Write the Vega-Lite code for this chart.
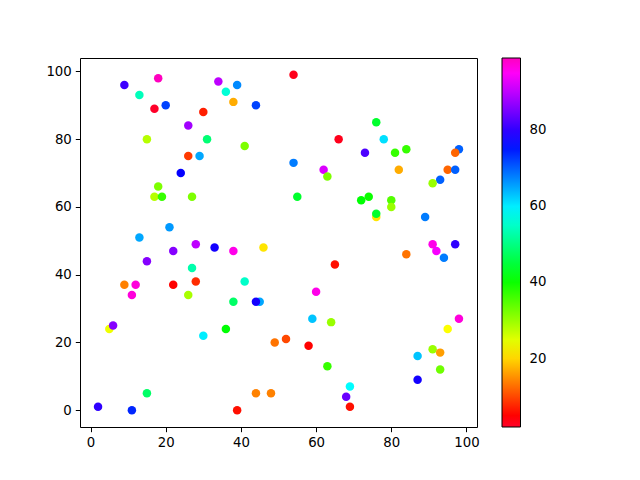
{
  "$schema": "https://vega.github.io/schema/vega-lite/v6.json",
  "autosize": "none",
  "width": 397,
  "height": 369,
  "padding": {"left": 80, "top": 58, "right": 163, "bottom": 53},
  "background": "white",
  "config": {
    "view": {"stroke": "black", "strokeWidth": 1},
    "font": "DejaVu Sans",
    "axis": {
      "grid": false,
      "domain": false,
      "tickColor": "black",
      "tickSize": 4.7,
      "tickWidth": 1,
      "labelColor": "black",
      "labelFont": "DejaVu Sans",
      "labelFontSize": 13.3,
      "labelPadding": 4,
      "title": null
    }
  },
  "data": {
    "values": [
      {"x": 9, "y": 96, "c": 81},
      {"x": 18, "y": 98, "c": 99},
      {"x": 34, "y": 97, "c": 90},
      {"x": 39, "y": 96, "c": 67},
      {"x": 13, "y": 93, "c": 54},
      {"x": 36, "y": 94, "c": 56},
      {"x": 38, "y": 91, "c": 17},
      {"x": 17, "y": 89, "c": 2},
      {"x": 20, "y": 90, "c": 72},
      {"x": 30, "y": 88, "c": 7},
      {"x": 44, "y": 90, "c": 72},
      {"x": 26, "y": 84, "c": 88},
      {"x": 15, "y": 80, "c": 28},
      {"x": 31, "y": 80, "c": 49},
      {"x": 41, "y": 78, "c": 32},
      {"x": 26, "y": 75, "c": 9},
      {"x": 29, "y": 75, "c": 65},
      {"x": 24, "y": 70, "c": 77},
      {"x": 18, "y": 66, "c": 32},
      {"x": 17, "y": 63, "c": 28},
      {"x": 19, "y": 63, "c": 37},
      {"x": 27, "y": 63, "c": 32},
      {"x": 21, "y": 54, "c": 66},
      {"x": 13, "y": 51, "c": 65},
      {"x": 54, "y": 99, "c": 3},
      {"x": 76, "y": 85, "c": 44},
      {"x": 66, "y": 80, "c": 3},
      {"x": 78, "y": 80, "c": 61},
      {"x": 73, "y": 76, "c": 82},
      {"x": 81, "y": 76, "c": 37},
      {"x": 84, "y": 77, "c": 37},
      {"x": 98, "y": 77, "c": 70},
      {"x": 97, "y": 76, "c": 12},
      {"x": 54, "y": 73, "c": 68},
      {"x": 62, "y": 71, "c": 92},
      {"x": 63, "y": 69, "c": 32},
      {"x": 82, "y": 71, "c": 17},
      {"x": 95, "y": 71, "c": 12},
      {"x": 97, "y": 71, "c": 70},
      {"x": 93, "y": 68, "c": 70},
      {"x": 91, "y": 67, "c": 30},
      {"x": 55, "y": 63, "c": 44},
      {"x": 72, "y": 62, "c": 41},
      {"x": 74, "y": 63, "c": 40},
      {"x": 80, "y": 62, "c": 35},
      {"x": 80, "y": 60, "c": 30},
      {"x": 76, "y": 57, "c": 21},
      {"x": 76, "y": 58, "c": 44},
      {"x": 89, "y": 57, "c": 68},
      {"x": 91, "y": 49, "c": 96},
      {"x": 28, "y": 49, "c": 90},
      {"x": 22, "y": 47, "c": 86},
      {"x": 33, "y": 48, "c": 78},
      {"x": 38, "y": 47, "c": 96},
      {"x": 46, "y": 48, "c": 21},
      {"x": 15, "y": 44, "c": 86},
      {"x": 27, "y": 42, "c": 53},
      {"x": 9, "y": 37, "c": 14},
      {"x": 12, "y": 37, "c": 97},
      {"x": 22, "y": 37, "c": 5},
      {"x": 28, "y": 38, "c": 8},
      {"x": 41, "y": 38, "c": 55},
      {"x": 11, "y": 34, "c": 97},
      {"x": 26, "y": 34, "c": 29},
      {"x": 38, "y": 32, "c": 48},
      {"x": 45, "y": 32, "c": 65},
      {"x": 44, "y": 32, "c": 78},
      {"x": 5, "y": 24, "c": 24},
      {"x": 6, "y": 25, "c": 86},
      {"x": 30, "y": 22, "c": 60},
      {"x": 36, "y": 24, "c": 41},
      {"x": 49, "y": 20, "c": 13},
      {"x": 15, "y": 5, "c": 48},
      {"x": 44, "y": 5, "c": 14},
      {"x": 48, "y": 5, "c": 14},
      {"x": 2, "y": 1, "c": 80},
      {"x": 11, "y": 0, "c": 74},
      {"x": 39, "y": 0, "c": 6},
      {"x": 92, "y": 47, "c": 94},
      {"x": 97, "y": 49, "c": 80},
      {"x": 84, "y": 46, "c": 13},
      {"x": 94, "y": 45, "c": 68},
      {"x": 65, "y": 43, "c": 6},
      {"x": 60, "y": 35, "c": 96},
      {"x": 59, "y": 27, "c": 63},
      {"x": 64, "y": 26, "c": 30},
      {"x": 98, "y": 27, "c": 97},
      {"x": 95, "y": 24, "c": 23},
      {"x": 52, "y": 21, "c": 10},
      {"x": 58, "y": 19, "c": 5},
      {"x": 87, "y": 16, "c": 63},
      {"x": 91, "y": 18, "c": 30},
      {"x": 93, "y": 17, "c": 16},
      {"x": 63, "y": 13, "c": 37},
      {"x": 93, "y": 12, "c": 33},
      {"x": 87, "y": 9, "c": 78},
      {"x": 69, "y": 7, "c": 59},
      {"x": 68, "y": 4, "c": 84},
      {"x": 69, "y": 1, "c": 6}
    ]
  },
  "mark": {"type": "point", "shape": "circle", "filled": true, "opacity": 1, "size": 72},
  "encoding": {
    "x": {
      "field": "x", "type": "quantitative",
      "scale": {"domain": [-2.8, 102.8], "nice": false, "zero": false},
      "axis": {"values": [0, 20, 40, 60, 80, 100]}
    },
    "y": {
      "field": "y", "type": "quantitative",
      "scale": {"domain": [-4.95, 103.95], "nice": false, "zero": false},
      "axis": {"values": [0, 20, 40, 60, 80, 100]}
    },
    "color": {
      "field": "c", "type": "quantitative",
      "scale": {
        "type": "linear",
        "domain": [2, 4.91, 22.855, 40.8, 58.84, 76.69, 94.54, 99],
        "range": ["#ff0029", "#ff0000", "#ffff00", "#00ff00", "#00ffff", "#0000ff", "#ff00ff", "#ff00bf"],
        "interpolate": "rgb"
      },
      "legend": {
        "title": null,
        "orient": "none",
        "legendX": 422,
        "legendY": 0,
        "padding": 0,
        "direction": "vertical",
        "gradientLength": 369,
        "gradientThickness": 18.5,
        "gradientStrokeColor": "black",
        "gradientStrokeWidth": 1,
        "values": [20, 40, 60, 80],
        "labelFont": "DejaVu Sans",
        "labelFontSize": 13.3,
        "labelColor": "black",
        "labelOffset": 9,
        "labelOverlap": false
      }
    }
  }
}
